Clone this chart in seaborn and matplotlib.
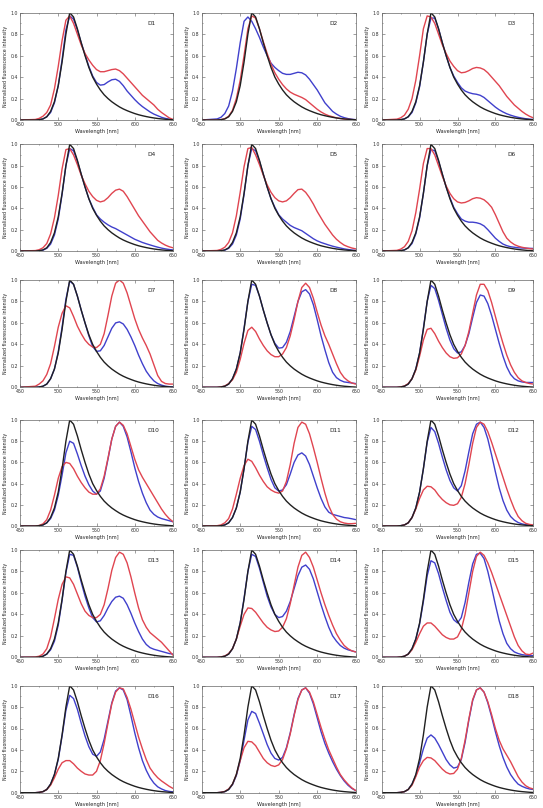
import numpy as np
import pandas as pd
import matplotlib.pyplot as plt
import seaborn as sns
from matplotlib.ticker import MultipleLocator

# wavelength grid [nm]: 450, then 470..650 every 5 nm
wavelength = [450] + list(range(470, 655, 5))

# donor-only reference spectrum (same in every panel)
black = [0, 0, 0.003, 0.01, 0.03, 0.08, 0.17, 0.32,
         0.54, 0.8, 1.0, 0.96, 0.85, 0.72, 0.6, 0.49, 0.4,
         0.335, 0.28, 0.235, 0.2, 0.17, 0.145, 0.122, 0.103, 0.087,
         0.073, 0.06, 0.049, 0.04, 0.032, 0.025, 0.019, 0.014, 0.01, 0.007, 0.004, 0.002]

d1_red = [0, 0.005, 0.015, 0.035, 0.07, 0.14, 0.29, 0.5,
          0.74, 0.93, 0.97, 0.9, 0.8, 0.7, 0.62, 0.56, 0.51,
          0.47, 0.45, 0.45, 0.46, 0.47, 0.475, 0.46, 0.43, 0.39,
          0.35, 0.31, 0.27, 0.23, 0.2, 0.17, 0.14, 0.1, 0.07, 0.045, 0.02, 0.005]
d1_blue = [0, 0, 0.003, 0.01, 0.03, 0.07, 0.16, 0.32,
           0.56, 0.84, 0.97, 0.94, 0.84, 0.72, 0.61, 0.5, 0.41,
           0.35, 0.325, 0.33, 0.355, 0.375, 0.38, 0.36, 0.32, 0.27,
           0.23, 0.19, 0.155, 0.125, 0.1, 0.075, 0.055, 0.04, 0.025, 0.015, 0.008, 0.003]

d2_red = [0, 0, 0.004, 0.012, 0.035, 0.09, 0.2, 0.37,
          0.6, 0.85, 0.97, 0.95, 0.85, 0.73, 0.62, 0.52, 0.44,
          0.38, 0.33, 0.29, 0.26, 0.24, 0.225, 0.21, 0.19, 0.16,
          0.13, 0.1, 0.075, 0.055, 0.04, 0.03, 0.02, 0.014, 0.009, 0.006, 0.004, 0.002]
d2_blue = [0, 0.01, 0.025, 0.06, 0.13, 0.27, 0.48, 0.72,
           0.92, 0.96, 0.92, 0.85, 0.77, 0.68, 0.6, 0.53, 0.49,
           0.46, 0.435, 0.425, 0.425, 0.435, 0.445, 0.44, 0.42, 0.38,
           0.33, 0.28, 0.22, 0.16, 0.12, 0.08, 0.055, 0.035, 0.022, 0.013, 0.007, 0.003]

d3_red = [0, 0.008, 0.02, 0.045, 0.1, 0.2, 0.37, 0.6,
          0.85, 0.97, 0.96, 0.9, 0.8, 0.7, 0.62, 0.55, 0.5,
          0.46, 0.44, 0.445, 0.46, 0.48, 0.49, 0.485, 0.47, 0.44,
          0.4, 0.36, 0.32, 0.27, 0.22, 0.18, 0.14, 0.11, 0.08, 0.055, 0.035, 0.02]
d3_blue = [0, 0, 0.003, 0.01, 0.03, 0.07, 0.16, 0.31,
           0.54, 0.8, 0.95, 0.95, 0.85, 0.72, 0.6, 0.49, 0.41,
           0.35, 0.3, 0.27, 0.255, 0.245, 0.24, 0.23, 0.21, 0.18,
           0.15, 0.12, 0.095, 0.075, 0.058, 0.045, 0.034, 0.025, 0.018, 0.012, 0.008, 0.005]

d4_red = [0, 0.004, 0.012, 0.03, 0.07, 0.16, 0.31, 0.52,
          0.77, 0.95, 0.96, 0.9, 0.81, 0.71, 0.63, 0.56, 0.51,
          0.475, 0.46, 0.47, 0.5, 0.54, 0.57, 0.58, 0.56, 0.51,
          0.45, 0.39, 0.33, 0.28, 0.23, 0.18, 0.14, 0.1, 0.075, 0.055, 0.04, 0.03]
d4_blue = [0, 0, 0.002, 0.008, 0.025, 0.065, 0.15, 0.3,
           0.53, 0.8, 0.96, 0.94, 0.84, 0.72, 0.6, 0.49, 0.41,
           0.34, 0.3, 0.27, 0.245, 0.225, 0.21, 0.19, 0.17, 0.15,
           0.13, 0.11, 0.095, 0.08, 0.068, 0.057, 0.046, 0.036, 0.027, 0.02, 0.014, 0.01]

d5_red = [0, 0.005, 0.015, 0.035, 0.08, 0.17, 0.33, 0.55,
          0.79, 0.96, 0.97, 0.9, 0.81, 0.71, 0.62, 0.55, 0.5,
          0.47, 0.46, 0.47, 0.5, 0.54, 0.575, 0.58, 0.55, 0.5,
          0.44, 0.37, 0.31, 0.25, 0.2, 0.15, 0.11, 0.08, 0.055, 0.04, 0.028, 0.02]
d5_blue = [0, 0, 0.002, 0.008, 0.025, 0.065, 0.15, 0.3,
           0.53, 0.8, 0.96, 0.94, 0.84, 0.72, 0.6, 0.49, 0.41,
           0.34, 0.3, 0.27, 0.24, 0.22, 0.205, 0.19, 0.165, 0.14,
           0.115, 0.095, 0.08, 0.068, 0.056, 0.045, 0.036, 0.028, 0.02, 0.014, 0.009, 0.006]

d6_red = [0, 0.006, 0.017, 0.04, 0.09, 0.19, 0.36, 0.58,
          0.82, 0.96, 0.96, 0.9, 0.8, 0.7, 0.61, 0.54, 0.49,
          0.46, 0.45, 0.455, 0.47, 0.49, 0.5, 0.495, 0.48, 0.45,
          0.41, 0.34, 0.26, 0.18, 0.12, 0.085, 0.06, 0.045, 0.035, 0.028, 0.022, 0.018]
d6_blue = [0, 0, 0.003, 0.01, 0.03, 0.07, 0.16, 0.31,
           0.54, 0.8, 0.95, 0.94, 0.84, 0.72, 0.6, 0.5, 0.41,
           0.35, 0.3, 0.28, 0.27, 0.27, 0.265, 0.255, 0.235, 0.2,
           0.16, 0.12, 0.09, 0.065, 0.05, 0.04, 0.035, 0.03, 0.028, 0.026, 0.025, 0.024]

d7_red = [0, 0.01, 0.03, 0.06, 0.12, 0.22, 0.38, 0.56,
          0.69, 0.76, 0.74, 0.66, 0.57, 0.5, 0.44, 0.4, 0.375,
          0.37, 0.4, 0.5, 0.67, 0.85, 0.97, 1.0, 0.97, 0.88,
          0.76, 0.64, 0.54, 0.46, 0.39, 0.31, 0.21, 0.11, 0.055, 0.035, 0.03, 0.03]
d7_blue = [0, 0, 0.003, 0.01, 0.03, 0.08, 0.17, 0.33,
           0.56, 0.82, 0.99, 0.96, 0.85, 0.72, 0.6, 0.48, 0.38,
           0.335, 0.34, 0.39, 0.47, 0.55, 0.6, 0.61, 0.59, 0.54,
           0.47, 0.39, 0.3, 0.22, 0.15, 0.1, 0.06, 0.035, 0.02, 0.01, 0.006, 0.004]

d8_red = [0, 0, 0.004, 0.012, 0.035, 0.07, 0.14, 0.26,
          0.41, 0.53, 0.56, 0.52, 0.45, 0.39, 0.34, 0.305, 0.285,
          0.285, 0.31, 0.37, 0.48, 0.63, 0.8, 0.93, 0.97, 0.93,
          0.83, 0.7, 0.58, 0.48, 0.4, 0.31, 0.22, 0.14, 0.09, 0.06, 0.04, 0.03]
d8_blue = [0, 0, 0.003, 0.01, 0.03, 0.08, 0.17, 0.32,
           0.55, 0.8, 0.96, 0.95, 0.85, 0.72, 0.6, 0.49, 0.41,
           0.365, 0.37, 0.42, 0.52, 0.66, 0.8, 0.89, 0.91, 0.87,
           0.77, 0.63, 0.48, 0.35, 0.23, 0.14, 0.09, 0.065, 0.05, 0.045, 0.04, 0.035]

d9_red = [0, 0, 0.004, 0.012, 0.035, 0.08, 0.16, 0.29,
          0.44, 0.54, 0.55, 0.5, 0.43, 0.37, 0.32, 0.285, 0.27,
          0.275, 0.31, 0.39, 0.52, 0.69, 0.86, 0.96, 0.96, 0.9,
          0.79, 0.66, 0.53, 0.41, 0.3, 0.21, 0.14, 0.09, 0.06, 0.045, 0.035, 0.03]
d9_blue = [0, 0, 0.003, 0.01, 0.03, 0.08, 0.17, 0.32,
           0.55, 0.8, 0.95, 0.92, 0.81, 0.68, 0.55, 0.44, 0.36,
           0.32, 0.33, 0.39, 0.5, 0.65, 0.79, 0.86, 0.85, 0.78,
           0.67, 0.54, 0.41, 0.29, 0.19, 0.12, 0.08, 0.06, 0.05, 0.045, 0.045, 0.045]

d10_red = [0, 0, 0.005, 0.02, 0.06, 0.15, 0.29, 0.45,
           0.56, 0.6, 0.59, 0.54, 0.47, 0.41, 0.36, 0.32, 0.3,
           0.3, 0.35, 0.47, 0.64, 0.82, 0.94, 0.98, 0.95, 0.87,
           0.75, 0.63, 0.53, 0.46, 0.4, 0.34, 0.28, 0.22, 0.16, 0.11, 0.07, 0.04]
d10_blue = [0, 0, 0.003, 0.01, 0.03, 0.07, 0.15, 0.29,
            0.48, 0.69, 0.8, 0.78, 0.68, 0.57, 0.47, 0.39, 0.33,
            0.3, 0.33, 0.45, 0.63, 0.82, 0.94, 0.98, 0.94, 0.84,
            0.7, 0.55, 0.42, 0.31, 0.22, 0.15, 0.11, 0.085, 0.07, 0.06, 0.05, 0.04]

d11_red = [0, 0.003, 0.01, 0.03, 0.07, 0.16, 0.3, 0.45,
           0.57, 0.63, 0.61, 0.55, 0.48, 0.42, 0.37, 0.34, 0.32,
           0.31, 0.33, 0.42, 0.58, 0.78, 0.93, 0.98, 0.96, 0.87,
           0.74, 0.6, 0.45, 0.31, 0.19, 0.11, 0.065, 0.04, 0.028, 0.022, 0.022, 0.025]
d11_blue = [0, 0, 0.003, 0.01, 0.03, 0.08, 0.17, 0.32,
            0.54, 0.79, 0.94, 0.91, 0.8, 0.67, 0.55, 0.44, 0.36,
            0.33, 0.34, 0.39, 0.49, 0.6, 0.67, 0.69, 0.66, 0.58,
            0.47, 0.36, 0.26, 0.18, 0.13, 0.11, 0.1, 0.09, 0.08, 0.075, 0.068, 0.06]

d12_red = [0, 0, 0.003, 0.01, 0.03, 0.08, 0.16, 0.26,
           0.34, 0.375, 0.37, 0.34, 0.29, 0.25, 0.22, 0.2, 0.195,
           0.21, 0.27, 0.4, 0.58, 0.78, 0.93, 0.98, 0.96, 0.89,
           0.79, 0.68, 0.57, 0.46, 0.35, 0.25, 0.16, 0.09, 0.05, 0.025, 0.015, 0.01]
d12_blue = [0, 0, 0.003, 0.01, 0.03, 0.08, 0.17, 0.32,
            0.54, 0.79, 0.93, 0.89, 0.78, 0.65, 0.53, 0.43, 0.36,
            0.33, 0.38, 0.52, 0.7, 0.87, 0.96, 0.98, 0.93, 0.82,
            0.67, 0.51, 0.36, 0.24, 0.15, 0.09, 0.055, 0.033, 0.02, 0.012, 0.008, 0.005]

d13_red = [0, 0.003, 0.01, 0.03, 0.08, 0.19, 0.36, 0.54,
           0.68, 0.75, 0.74, 0.68, 0.59, 0.5, 0.43, 0.39, 0.37,
           0.37, 0.4, 0.49, 0.64, 0.81, 0.93, 0.98, 0.96, 0.88,
           0.75, 0.6, 0.46, 0.35, 0.28, 0.23, 0.2, 0.17, 0.14, 0.1, 0.06, 0.02]
d13_blue = [0, 0, 0.003, 0.01, 0.03, 0.07, 0.15, 0.3,
            0.53, 0.79, 0.96, 0.95, 0.84, 0.7, 0.57, 0.46, 0.37,
            0.33, 0.34, 0.39, 0.46, 0.52, 0.56, 0.57, 0.55, 0.49,
            0.41, 0.32, 0.24, 0.17, 0.12, 0.09, 0.075, 0.065, 0.055, 0.045, 0.035, 0.03]

d14_red = [0, 0, 0.004, 0.012, 0.035, 0.08, 0.17, 0.29,
           0.4, 0.46, 0.455, 0.42, 0.37, 0.32, 0.28, 0.255, 0.24,
           0.245, 0.28, 0.36, 0.5, 0.67, 0.84, 0.95, 0.98, 0.93,
           0.84, 0.72, 0.6, 0.49, 0.39, 0.3, 0.22, 0.16, 0.11, 0.08, 0.06, 0.05]
d14_blue = [0, 0, 0.003, 0.01, 0.03, 0.08, 0.17, 0.32,
            0.55, 0.8, 0.96, 0.94, 0.83, 0.7, 0.57, 0.47, 0.4,
            0.37, 0.38, 0.43, 0.52, 0.64, 0.76, 0.84, 0.86, 0.82,
            0.73, 0.61, 0.49, 0.38, 0.28, 0.2, 0.15, 0.11, 0.085, 0.07, 0.06, 0.05]

d15_red = [0, 0, 0.003, 0.01, 0.03, 0.07, 0.14, 0.22,
           0.29, 0.32, 0.32, 0.29, 0.25, 0.21, 0.185, 0.17, 0.17,
           0.19, 0.26, 0.4, 0.6, 0.8, 0.94, 0.98, 0.95, 0.88,
           0.79, 0.69, 0.59, 0.49, 0.39, 0.29, 0.19, 0.11, 0.06, 0.03, 0.025, 0.04]
d15_blue = [0, 0, 0.003, 0.01, 0.03, 0.08, 0.17, 0.31,
            0.52, 0.76, 0.9, 0.88, 0.78, 0.65, 0.53, 0.42, 0.35,
            0.32, 0.37, 0.51, 0.7, 0.87, 0.96, 0.97, 0.92, 0.8,
            0.65, 0.49, 0.34, 0.22, 0.13, 0.08, 0.05, 0.035, 0.025, 0.02, 0.018, 0.015]

d16_red = [0, 0, 0.003, 0.01, 0.03, 0.07, 0.14, 0.22,
           0.28, 0.3, 0.3, 0.27, 0.23, 0.2, 0.175, 0.165, 0.165,
           0.2, 0.3, 0.46, 0.65, 0.83, 0.94, 0.98, 0.97, 0.89,
           0.78, 0.65, 0.52, 0.41, 0.31, 0.23, 0.18, 0.14, 0.11, 0.085, 0.06, 0.04]
d16_blue = [0, 0, 0.003, 0.01, 0.03, 0.08, 0.17, 0.31,
            0.53, 0.77, 0.91, 0.88, 0.78, 0.65, 0.53, 0.43, 0.36,
            0.34, 0.38, 0.5, 0.67, 0.84, 0.95, 0.98, 0.96, 0.87,
            0.72, 0.56, 0.42, 0.3, 0.21, 0.14, 0.09, 0.055, 0.035, 0.02, 0.012, 0.008]

d17_red = [0, 0, 0.004, 0.012, 0.035, 0.08, 0.17, 0.3,
           0.42, 0.48, 0.475, 0.44, 0.38, 0.32, 0.28, 0.255, 0.245,
           0.26, 0.31, 0.41, 0.55, 0.72, 0.87, 0.96, 0.98, 0.94,
           0.85, 0.73, 0.61, 0.5, 0.4, 0.32, 0.24, 0.17, 0.12, 0.08, 0.045, 0.02]
d17_blue = [0, 0, 0.003, 0.01, 0.03, 0.075, 0.16, 0.3,
            0.49, 0.68, 0.76, 0.74, 0.65, 0.55, 0.45, 0.37, 0.32,
            0.305, 0.33, 0.42, 0.56, 0.73, 0.88, 0.96, 0.98, 0.93,
            0.83, 0.7, 0.57, 0.46, 0.37, 0.29, 0.22, 0.16, 0.11, 0.07, 0.04, 0.02]

d18_red = [0, 0, 0.003, 0.01, 0.03, 0.07, 0.15, 0.24,
           0.3, 0.33, 0.325, 0.3, 0.26, 0.22, 0.19, 0.175, 0.18,
           0.22, 0.32, 0.49, 0.69, 0.87, 0.96, 0.98, 0.94, 0.85,
           0.73, 0.6, 0.49, 0.41, 0.35, 0.29, 0.22, 0.15, 0.1, 0.065, 0.045, 0.035]
d18_blue = [0, 0, 0.003, 0.01, 0.03, 0.08, 0.16, 0.28,
            0.41, 0.51, 0.54, 0.51, 0.45, 0.38, 0.31, 0.26, 0.23,
            0.24, 0.31, 0.47, 0.68, 0.86, 0.96, 0.98, 0.94, 0.84,
            0.71, 0.57, 0.44, 0.33, 0.24, 0.17, 0.12, 0.08, 0.06, 0.045, 0.035, 0.03]

labels = [f'D{i}' for i in range(1, 19)]
red_curves = [d1_red, d2_red, d3_red, d4_red, d5_red, d6_red, d7_red, d8_red, d9_red,
              d10_red, d11_red, d12_red, d13_red, d14_red, d15_red, d16_red, d17_red, d18_red]
blue_curves = [d1_blue, d2_blue, d3_blue, d4_blue, d5_blue, d6_blue, d7_blue, d8_blue, d9_blue,
               d10_blue, d11_blue, d12_blue, d13_blue, d14_blue, d15_blue, d16_blue, d17_blue, d18_blue]

RED = '#e04550'
BLUE = '#4040cc'
BLACK = '#202020'

sns.set_style('ticks')
plt.rcParams['font.family'] = ['DejaVu Sans']

W, H = 543, 808
fig = plt.figure(figsize=(W / 100, H / 100), dpi=100)

lefts = [20, 201.7, 381.7]
rights = [173, 355.7, 533.3]
tops = [12.7, 144.3, 280, 420, 550, 685.7]
bottoms = [120, 251, 387.3, 526, 657.3, 792.7]

for k, lab in enumerate(labels):
    r, c = divmod(k, 3)
    ax = fig.add_axes([lefts[c] / W, 1 - bottoms[r] / H,
                       (rights[c] - lefts[c]) / W, (bottoms[r] - tops[r]) / H])
    df = pd.DataFrame({'wl': wavelength, 'donor': black,
                       'blue': blue_curves[k], 'red': red_curves[k]})
    sns.lineplot(data=df, x='wl', y='blue', color=BLUE, lw=1.0, ax=ax)
    sns.lineplot(data=df, x='wl', y='red', color=RED, lw=1.0, ax=ax)
    sns.lineplot(data=df, x='wl', y='donor', color=BLACK, lw=1.0, ax=ax)

    ax.set_xlim(450, 650)
    ax.set_ylim(0, 1.0)
    ax.set_xticks([450, 500, 550, 600, 650])
    ax.set_yticks([0.0, 0.2, 0.4, 0.6, 0.8, 1.0])
    ax.set_yticklabels(['0.0', '0.2', '0.4', '0.6', '0.8', '1.0'])
    ax.xaxis.set_minor_locator(MultipleLocator(25))
    ax.yaxis.set_minor_locator(MultipleLocator(0.1))
    ax.tick_params(which='both', direction='in', top=True, right=True,
                   width=0.4, color='#555555')
    ax.tick_params(which='major', length=2, labelsize=3.4, pad=1.5,
                   labelcolor='#333333')
    ax.tick_params(which='minor', length=1)
    for sp in ax.spines.values():
        sp.set_linewidth(0.5)
        sp.set_color('#666666')
    ax.set_xlabel('Wavelength [nm]', fontsize=3.6, labelpad=1.5, color='#222222')
    ax.set_ylabel('Normalized fluorescence intensity', fontsize=3.4, labelpad=1.5,
                  color='#222222')
    ax.text(0.83, 0.9, lab, transform=ax.transAxes, fontsize=4.2,
            ha='left', va='center', color='#222222')

fig.savefig('out.png', dpi=100, facecolor='white')
